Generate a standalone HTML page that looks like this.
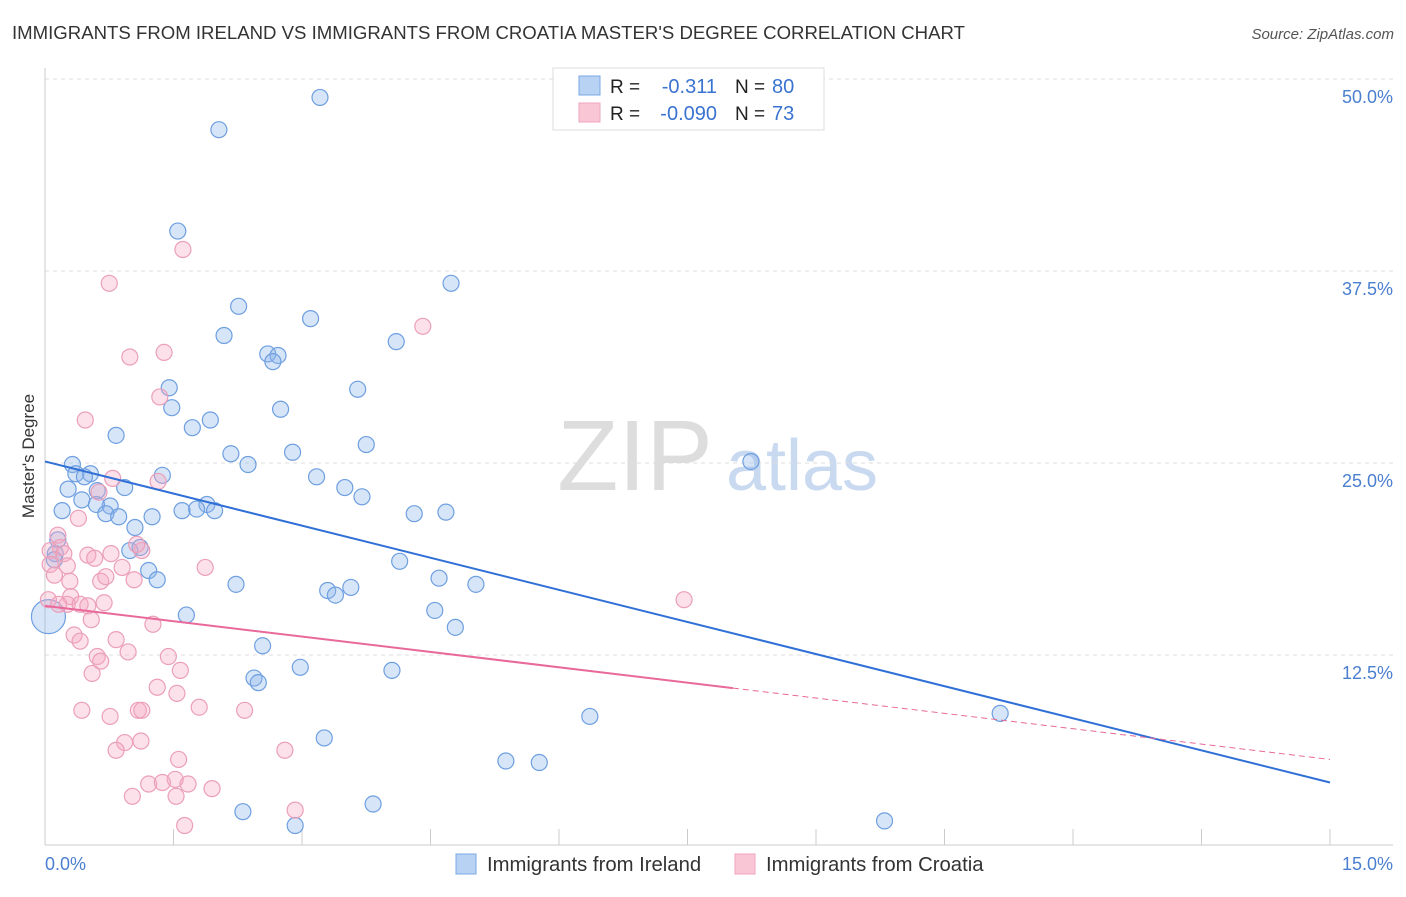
<!DOCTYPE html>
<html><head><meta charset="utf-8"><style>
body{margin:0;background:#fff;font-family:"Liberation Sans",sans-serif;}
svg text{font-family:"Liberation Sans",sans-serif;}
</style></head><body>
<svg id="c" width="1406" height="892">
<text x="12" y="39" font-size="18.6" fill="#333">IMMIGRANTS FROM IRELAND VS IMMIGRANTS FROM CROATIA MASTER'S DEGREE CORRELATION CHART</text>
<text x="1394" y="39" font-size="15" fill="#555" font-style="italic" text-anchor="end">Source: ZipAtlas.com</text>
<text x="34" y="456" font-size="17" fill="#333" text-anchor="middle" transform="rotate(-90 34 456)">Master's Degree</text>
<g><text x="635" y="490" font-size="100" font-family="Liberation Serif" fill="#ddd" text-anchor="middle">ZIP</text><text x="802" y="490" font-size="72" fill="#c8d9f0" text-anchor="middle">atlas</text></g>
<g id="grid"></g><g id="marks"></g>
<g>
<rect x="553" y="68" width="271" height="62" fill="#fff" stroke="#ddd"/>
<rect x="579" y="76" width="21" height="19" fill="#b8d2f4" stroke="#7aa8e4"/>
<rect x="579" y="103" width="21" height="19" fill="#f9c6d6" stroke="#eea5bd"/>
<text x="610" y="93" font-size="19" fill="#222">R =</text><text x="717" y="93" font-size="20" fill="#3a73d0" text-anchor="end">-0.311</text>
<text x="735" y="93" font-size="19" fill="#222">N =</text><text x="772" y="93" font-size="20" fill="#3a73d0">80</text>
<text x="610" y="120" font-size="19" fill="#222">R =</text><text x="717" y="120" font-size="20" fill="#3a73d0" text-anchor="end">-0.090</text>
<text x="735" y="120" font-size="19" fill="#222">N =</text><text x="772" y="120" font-size="20" fill="#3a73d0">73</text>
</g>
<g>
<rect x="456" y="854" width="20" height="20" fill="#b8d2f4" stroke="#7aa8e4"/>
<text x="487" y="871" font-size="20.3" fill="#333">Immigrants from Ireland</text>
<rect x="735" y="854" width="20" height="20" fill="#f9c6d6" stroke="#eea5bd"/>
<text x="766" y="871" font-size="20.3" fill="#333">Immigrants from Croatia</text>
</g>
</svg>
<script>
const yTicks=[12.5,25,37.5,50];
const yTickLabels=["12.5%","25.0%","37.5%","50.0%"];
const xTickLabels=["0.0%","15.0%"];
const blueX=[3.21,2.03,1.55,4.74,2.26,3.10,2.09,4.10,2.60,2.72,2.66,3.65,1.45,1.48,2.75,1.93,1.72,0.83,3.75,2.17,2.89,2.37,8.24,0.32,1.37,0.53,0.36,3.17,0.46,0.27,0.93,3.50,3.70,0.43,0.61,0.76,0.60,1.89,1.60,1.77,1.98,0.20,0.71,0.86,1.25,4.31,4.68,1.05,0.15,0.99,0.12,1.11,0.11,4.14,1.21,1.31,2.23,4.60,5.03,3.57,3.30,3.39,1.65,4.55,4.79,0.04,2.54,2.98,4.05,2.44,2.49,6.36,11.15,3.26,5.38,5.77,3.83,2.31,2.92,9.80];
const blueY=[48.8,46.7,40.1,36.7,35.2,34.4,33.3,32.9,32.1,32.0,31.6,29.8,29.9,28.6,28.5,27.8,27.3,26.8,26.2,25.6,25.7,24.9,25.1,24.9,24.2,24.3,24.3,24.1,24.1,23.3,23.4,23.4,22.8,22.6,23.2,22.2,22.3,22.3,21.9,22.0,21.9,21.9,21.7,21.5,21.5,21.7,21.8,20.8,20.0,19.3,19.1,19.5,18.7,18.6,18.0,17.4,17.1,17.5,17.1,16.9,16.7,16.4,15.1,15.4,14.3,15.0,13.1,11.7,11.5,11.0,10.7,8.5,8.7,7.1,5.6,5.5,2.8,2.3,1.4,1.7];
const pinkX=[1.61,0.75,4.41,1.39,0.99,1.34,0.47,0.79,1.32,0.63,0.39,0.15,0.18,0.06,0.22,1.13,0.50,0.77,1.07,0.06,0.26,0.11,0.58,0.90,1.87,0.29,0.65,0.71,1.04,0.04,0.30,0.26,0.41,0.50,0.69,0.16,0.54,1.26,0.34,0.83,0.41,0.97,1.44,0.61,0.65,1.58,0.55,7.46,1.31,1.54,0.43,0.76,1.09,1.13,1.80,2.33,0.93,1.12,0.83,2.80,1.56,1.52,1.21,1.37,1.67,1.95,1.02,1.53,2.92,1.63];
const pinkY=[38.9,36.7,33.9,32.2,31.9,29.3,27.8,24.0,23.8,23.1,21.4,20.3,19.5,19.3,19.1,19.3,19.0,19.1,19.7,18.4,18.3,17.7,18.8,18.2,18.2,17.3,17.3,17.6,17.4,16.1,16.3,15.8,15.8,15.7,15.9,15.8,14.8,14.5,13.8,13.5,13.4,12.7,12.4,12.4,12.1,11.5,11.3,16.1,10.4,10.0,8.9,8.5,8.9,8.9,9.1,8.9,6.8,6.9,6.3,6.3,5.7,4.4,4.1,4.2,4.1,3.8,3.3,3.3,2.4,1.4];
const blueTrend=[25.1,4.2];
const pinkTrend=[15.7,5.7];
const pinkSolidEnd=8.03;
const X=v=>45+v*(1285/15), Y=v=>847-v*15.36;
const ns="http://www.w3.org/2000/svg";
function mk(tag,attrs,parent){const e=document.createElementNS(ns,tag);for(const k in attrs)e.setAttribute(k,attrs[k]);parent.appendChild(e);return e;}
const grid=document.getElementById('grid'),marks=document.getElementById('marks');
yTicks.forEach((t,i)=>{
 const l=mk('line',{x1:45,x2:1393,y1:Y(t),y2:Y(t),stroke:'#ddd','stroke-dasharray':'4,4'},grid);
 
 
 const tx=mk('text',{x:1393,y:Y(t)+24,'font-size':18,fill:'#4a7fd0','text-anchor':'end'},grid);tx.textContent=yTickLabels[i];
 
 
});
const ax=mk('line',{x1:45,x2:1393,y1:845,y2:845,stroke:'#ccc'},grid);


const ay=mk('line',{x1:45,x2:45,y1:68,y2:845,stroke:'#ccc'},grid);


for(let i=1;i<=10;i++){const t=mk('line',{x1:X(i*1.5),x2:X(i*1.5),y1:829,y2:845,stroke:'#ccc'},grid);
 
 }
[[0,'start',45],[1,'end',1393]].forEach(([i,a,x])=>{const t=mk('text',{x:x,y:870,'font-size':18,fill:'#4a7fd0','text-anchor':a},grid);t.textContent=xTickLabels[i];
 
 });
blueX.forEach((x,i)=>{const c=mk('circle',{cx:X(x),cy:Y(blueY[i]),r:(x<0.1&&blueY[i]===15)?17:8,fill:'rgba(140,180,235,0.35)',stroke:'#6e9fe0','stroke-width':1.2},marks);
 
 });
pinkX.forEach((x,i)=>{const c=mk('circle',{cx:X(x),cy:Y(pinkY[i]),r:8,fill:'rgba(245,170,195,0.35)',stroke:'#eb9fb9','stroke-width':1.2},marks);
 
 });
const pAt=v=>pinkTrend[0]+(pinkTrend[1]-pinkTrend[0])*v/15;
const bl=mk('line',{x1:X(0),y1:Y(blueTrend[0]),x2:X(15),y2:Y(blueTrend[1]),stroke:'#2f6fd6','stroke-width':2},marks);


const pl=mk('line',{x1:X(0),y1:Y(pinkTrend[0]),x2:X(pinkSolidEnd),y2:Y(pAt(pinkSolidEnd)),stroke:'#e8699a','stroke-width':2},marks);


const pd=mk('line',{x1:X(pinkSolidEnd),y1:Y(pAt(pinkSolidEnd)),x2:X(15),y2:Y(pinkTrend[1]),stroke:'#e8699a','stroke-width':1,'stroke-dasharray':'6,4'},marks);


</script>
</body></html>
